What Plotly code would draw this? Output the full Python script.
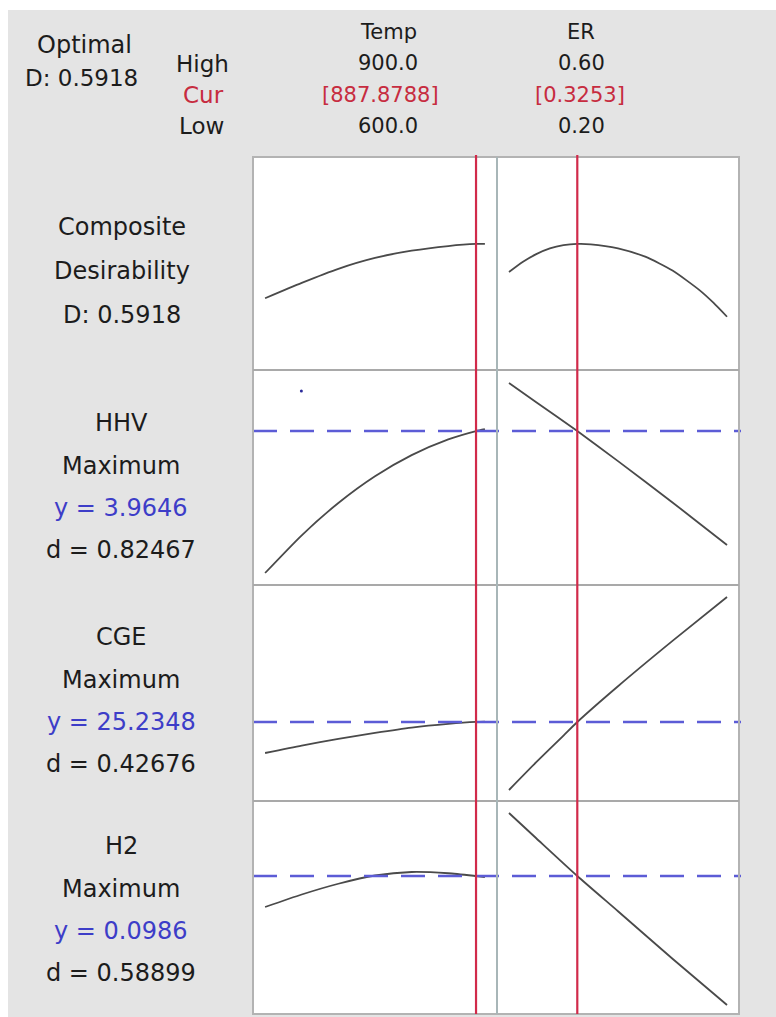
import plotly.graph_objects as go

W, H = 776, 1017

# ---------------- data ----------------
temp_low, temp_high, temp_cur = 600.0, 900.0, 887.8788
er_low, er_high, er_cur = 0.20, 0.60, 0.3253

# Composite desirability
comp_temp_x = [600, 650, 700, 750, 800, 850, 887.8788, 900]
comp_temp_y = [0.337, 0.409, 0.475, 0.526, 0.560, 0.582, 0.5918, 0.592]
comp_er_x = [0.20, 0.225, 0.25, 0.275, 0.30, 0.3253, 0.35, 0.40, 0.45, 0.50, 0.55, 0.575, 0.60]
comp_er_y = [0.460, 0.507, 0.544, 0.571, 0.586, 0.5918, 0.590, 0.571, 0.532, 0.467, 0.374, 0.316, 0.25]

# HHV
hhv_temp_x = [600, 650, 700, 750, 800, 850, 887.8788, 900]
hhv_temp_y = [2.971, 3.235, 3.461, 3.648, 3.796, 3.906, 3.9646, 3.978]
hhv_er_x = [0.20, 0.25, 0.3253, 0.40, 0.50, 0.55, 0.60]
hhv_er_y = [4.3006, 4.166, 3.9646, 3.754, 3.465, 3.316, 3.167]
hhv_dot = (649.5, 4.2446)

# CGE
cge_temp_x = [600, 650, 700, 750, 800, 850, 887.8788, 900]
cge_temp_y = [20.58, 21.7, 22.7, 23.6, 24.4, 24.95, 25.2348, 25.27]
cge_er_x = [0.20, 0.25, 0.30, 0.3253, 0.40, 0.50, 0.60]
cge_er_y = [15.03, 19.2, 23.2, 25.2348, 30.6, 37.4, 43.98]

# H2
h2_temp_x = [600, 650, 700, 750, 800, 850, 887.8788, 900]
h2_temp_y = [0.0862, 0.0912, 0.0955, 0.0988, 0.1002, 0.0997, 0.0986, 0.0982]
h2_er_x = [0.20, 0.25, 0.3253, 0.40, 0.50, 0.60]
h2_er_y = [0.1238, 0.1137, 0.0986, 0.0845, 0.0655, 0.047]

responses = ["Composite", "HHV", "CGE", "H2"]
optimum_y = [0.5918, 3.9646, 25.2348, 0.0986]
y_ranges = [[0.0, 1.0], [2.887, 4.392], [13.38, 45.78], [0.0434, 0.1286]]

# ---------------- layout helpers ----------------
def px(x):
    return x / W

def py(y):
    return 1 - y / H

col_px = [(253, 497), (497, 739)]
row_px = [(157, 370), (370, 585), (585, 801), (801, 1014)]
x_ranges = [[583.5, 916.5], [0.178, 0.622]]

fig = go.Figure()
layout_axes = {}
series = [
    [(comp_temp_x, comp_temp_y), (comp_er_x, comp_er_y)],
    [(hhv_temp_x, hhv_temp_y), (hhv_er_x, hhv_er_y)],
    [(cge_temp_x, cge_temp_y), (cge_er_x, cge_er_y)],
    [(h2_temp_x, h2_temp_y), (h2_er_x, h2_er_y)],
]

ax_id = {}
n = 0
for r in range(4):
    for c in range(2):
        n += 1
        ax_id[(r, c)] = n
        xk = "xaxis" if n == 1 else f"xaxis{n}"
        yk = "yaxis" if n == 1 else f"yaxis{n}"
        xa = "x" if n == 1 else f"x{n}"
        ya = "y" if n == 1 else f"y{n}"
        layout_axes[xk] = dict(domain=[px(col_px[c][0]), px(col_px[c][1])], range=x_ranges[c],
                               anchor=ya, visible=False, fixedrange=True)
        layout_axes[yk] = dict(domain=[py(row_px[r][1]), py(row_px[r][0])], range=y_ranges[r],
                               anchor=xa, visible=False, fixedrange=True)
        xs, ys = series[r][c]
        fig.add_trace(go.Scatter(x=xs, y=ys, xaxis=xa, yaxis=ya, mode="lines",
                                 line=dict(color="#4a4a4a", width=1.8, shape="spline", smoothing=0.6),
                                 showlegend=False, hoverinfo="skip"))

# blue dot in HHV panel
fig.add_trace(go.Scatter(x=[hhv_dot[0]], y=[hhv_dot[1]], xaxis="x3", yaxis="y3", mode="markers",
                         marker=dict(color="#2a2a9a", size=3), showlegend=False, hoverinfo="skip"))

fig.update_layout(**layout_axes)

shapes = []
# grey background with thin white border at top/left
shapes.append(dict(type="rect", xref="paper", yref="paper", x0=px(8), x1=1, y0=0, y1=py(10),
                   fillcolor="#e4e4e4", line=dict(width=0), layer="below"))
# white plotting region
shapes.append(dict(type="rect", xref="paper", yref="paper", x0=px(253), x1=px(739), y0=py(1014), y1=py(157),
                   fillcolor="white", line=dict(width=0), layer="below"))

# dashed optimum lines
for r in range(1, 4):
    n = ax_id[(r, 0)]
    shapes.append(dict(type="line", xref="paper", yref=f"y{n}", x0=px(253), x1=px(741),
                       y0=optimum_y[r], y1=optimum_y[r],
                       line=dict(color="#5c5cd6", width=2.4, dash="24px,13px"), layer="above"))

# frame and separators
frame_col = "#b3b3b3"
shapes.append(dict(type="rect", xref="paper", yref="paper", x0=px(253), x1=px(739), y0=py(1014), y1=py(157),
                   line=dict(color=frame_col, width=2), layer="above"))
for ysep in [370, 585, 801]:
    shapes.append(dict(type="line", xref="paper", yref="paper", x0=px(253), x1=px(739), y0=py(ysep), y1=py(ysep),
                       line=dict(color="#a9a9a9", width=2), layer="above"))
# column divider
shapes.append(dict(type="line", xref="paper", yref="paper", x0=px(497), x1=px(497), y0=py(1014), y1=py(157),
                   line=dict(color="#a8b6b8", width=2), layer="above"))

# current setting red lines
shapes.append(dict(type="line", xref="x", yref="paper", x0=temp_cur, x1=temp_cur, y0=py(1014), y1=py(155),
                   line=dict(color="#d12a4a", width=2.2), layer="above"))
shapes.append(dict(type="line", xref="x2", yref="paper", x0=er_cur, x1=er_cur, y0=py(1014), y1=py(155),
                   line=dict(color="#d12a4a", width=2.2), layer="above"))

fig.update_layout(shapes=shapes)

FONT = "DejaVu Sans, Open Sans, sans-serif"
DARK = "#1c1c1c"
RED = "#c72c40"
BLUE = "#3d3dc8"

ann = []
def text(t, x, y, size, color=DARK, xanchor="center"):
    ann.append(dict(text=t, x=px(x), y=py(y), xref="paper", yref="paper", showarrow=False,
                    xanchor=xanchor, yanchor="middle", font=dict(family=FONT, size=size, color=color)))

# header
text("Optimal", 84, 45, 24)
text("D: 0.5918", 81, 78, 23)
text("High", 202, 64, 23)
text("Cur", 203, 95, 23, RED)
text("Low", 201, 126, 23)
HS = 21
text("Temp", 388, 32, HS)
text(f"{temp_high:.1f}", 388, 63, HS)
text(f"[{temp_cur:.4f}]", 380, 95, HS, RED)
text(f"{temp_low:.1f}", 388, 126, HS)
text("ER", 581, 32, HS)
text(f"{er_high:.2f}", 581, 63, HS)
text(f"[{er_cur:.4f}]", 580, 95, HS, RED)
text(f"{er_low:.2f}", 581, 126, HS)

# left labels
LS = 24
text("Composite", 122, 227, LS)
text("Desirability", 122, 271, LS)
text("D: 0.5918", 122, 315, LS)

left_blocks = [
    ("HHV", "y = 3.9646", "d = 0.82467", 423),
    ("CGE", "y = 25.2348", "d = 0.42676", 637),
    ("H2", "y = 0.0986", "d = 0.58899", 846),
]
for name, yv, dv, y0 in left_blocks:
    text(name, 121, y0, LS)
    text("Maximum", 121, y0 + 43, LS)
    text(yv, 121, y0 + 85, LS, BLUE)
    text(dv, 121, y0 + 127, LS)

fig.update_layout(annotations=ann, width=W, height=H, margin=dict(l=0, r=0, t=0, b=0),
                  paper_bgcolor="white", plot_bgcolor="rgba(0,0,0,0)", showlegend=False)

fig.write_html("out.html", config={"displayModeBar": False})
